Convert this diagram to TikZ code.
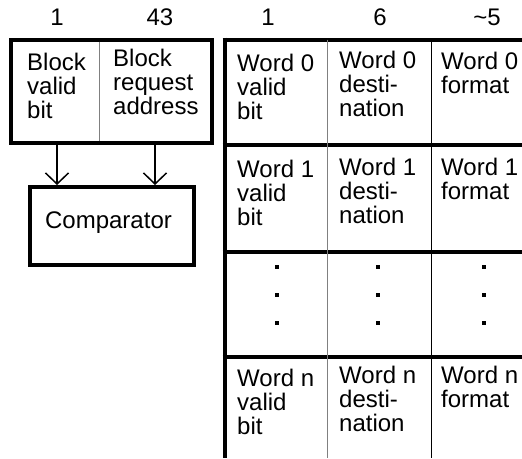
\documentclass[tikz,border=0pt]{standalone}
\usepackage{fontspec}
\setmainfont{Liberation Sans}
\usepackage{tikz}
\usetikzlibrary{arrows.meta,positioning,calc}
\definecolor{rule}{RGB}{128,128,128}

\tikzset{
  heavy/.style={draw=black, line width=4pt},
  thinrule/.style={draw=rule, line width=1pt},
  darkrule/.style={draw=black, line width=1pt},
  cell/.style={align=left, anchor=north west, inner sep=0pt, font=\fontsize{24}{24}\selectfont},
  width/.style={anchor=base, inner sep=0pt, font=\fontsize{24}{24}\selectfont},
  feed/.style={line width=1.5pt, -{Straight Barb[length=11pt,width=23pt,line width=1.5pt]}},
  dot/.style={fill=black, minimum size=3.5pt, inner sep=0pt}
}

\begin{document}
\begin{tikzpicture}[x=1pt, y=-1pt]
        \useasboundingbox (0,0) rectangle (522,458);
        % field widths
        \node[width] (wval) at (57,25) {1};
        \node[width] (wadr) at (160,25) {43};
        \node[width] (wwv) at (268,25) {1};
        \node[width] (wdst) at (380,25) {6};
        \node[width] (wfmt) at (487,25) {\textasciitilde5};

        % request block and comparator
        \node[heavy, minimum width=201pt, minimum height=103.5pt, inner sep=0pt, outer sep=2pt] (req) at (111,91.25) {};
        \draw[thinrule] (99.5,41.5) -- (99.5,141);
        \node[cell] (bvalid) at (27,52.5) {Block\\valid\\bit};
        \node[cell] (baddr) at (113,48.5) {Block\\request\\address};
        \node[heavy, minimum width=164.5pt, minimum height=78pt, inner sep=0pt, outer sep=2pt] (cmp) at (111.75,226) {};
        \node[width] (cmptext) at (108.5,228.3) {Comparator};
        \coordinate (av) at (57,0);
        \coordinate (aa) at (155,0);
        \draw[feed] (req.south -| av) -- (cmp.north -| av);
        \draw[feed] (req.south -| aa) -- (cmp.north -| aa);

        % word table
        \draw[heavy] (224.5,37.5) -- (224.5,458);
        \draw[heavy] (222.5,39.5) -- (522,39.5);
        \draw[heavy] (222.5,144.5) -- (522,144.5);
        \draw[heavy] (222.5,252) -- (522,252);
        \draw[heavy] (222.5,357) -- (522,357);
        \draw[thinrule] (327,39.5) -- (327,458);
        \draw[darkrule] (431.5,39.5) -- (431.5,458);

        \node[cell] (v0) at (237,54) {Word 0\\valid\\bit};
        \node[cell] (d0) at (339,50.5) {Word 0\\desti-\\nation};
        \node[cell] (f0) at (441,51.5) {Word 0\\format};
        \node[cell] (v1) at (237,160) {Word 1\\valid\\bit};
        \node[cell] (d1) at (339,157.5) {Word 1\\desti-\\nation};
        \node[cell] (f1) at (441,157.5) {Word 1\\format};
        \node[cell] (vn) at (237,369) {Word n\\valid\\bit};
        \node[cell] (dn) at (339,365.5) {Word n\\desti-\\nation};
        \node[cell] (fn) at (441,365.5) {Word n\\format};

        % elided rows
        \node[dot] (va) at (277,267) {}; \node[dot] (vb) at (277,295) {}; \node[dot] (vc) at (277,323) {};
        \node[dot] (da) at (378,267) {}; \node[dot] (db) at (378,295) {}; \node[dot] (dc) at (378,323) {};
        \node[dot] (fa) at (484,267) {}; \node[dot] (fb) at (484,295) {}; \node[dot] (fc) at (484,323) {};
      \end{tikzpicture}
\end{document}
